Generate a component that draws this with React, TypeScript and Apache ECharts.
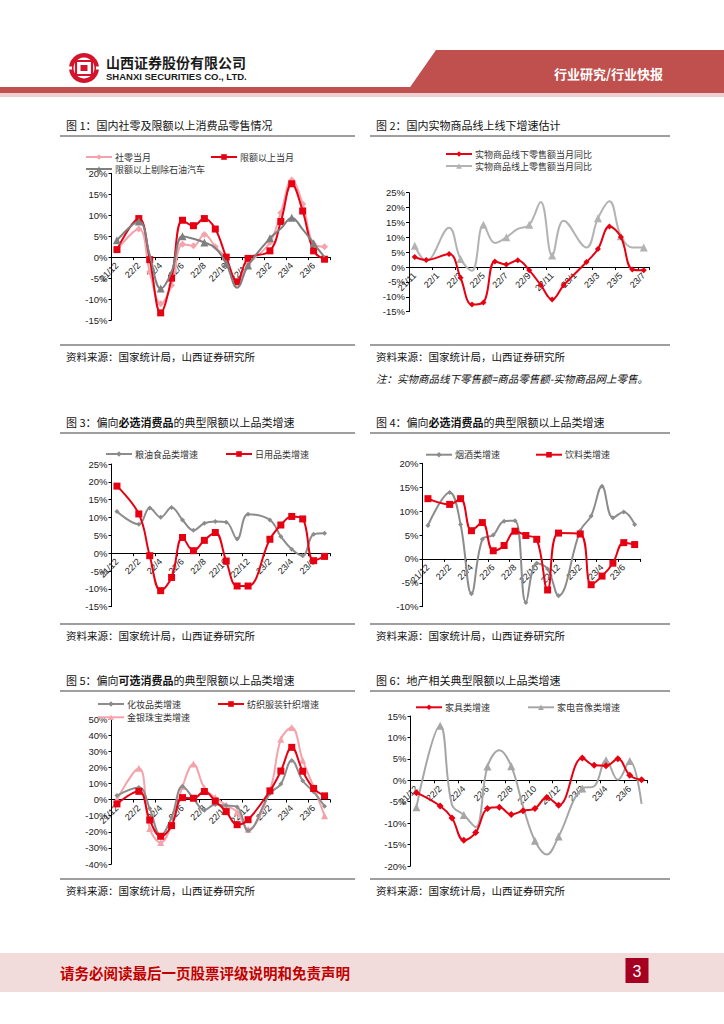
import React, { useEffect, useRef } from "react";
import * as echarts from "echarts";

// ---------- DATA ----------
const monthsA = ["21/12","22/1","22/2","22/3","22/4","22/5","22/6","22/7","22/8","22/9","22/10","22/11","22/12","23/1","23/2","23/3","23/4","23/5","23/6","23/7"];
const monthsB = ["21/11","21/12","22/1","22/2","22/3","22/4","22/5","22/6","22/7","22/8","22/9","22/10","22/11","22/12","23/1","23/2","23/3","23/4","23/5","23/6","23/7"];
const yTickFmt = "{value}%";

// Fig 1
const retailTotal = [1.7, null, 6.7, -3.5, -11.1, -6.7, 3.1, 2.7, 5.4, 2.5, -0.5, -5.9, -1.8, null, 3.5, 10.6, 18.4, 12.7, 3.1, 2.5];
const retailAbove = [1.8, null, 9.2, -0.6, -13.3, -5.0, 8.8, 7.5, 9.2, 6.7, 0.0, -5.9, -0.3, null, 1.5, 8.5, 17.5, 11.0, 1.5, -0.5];
const retailAboveEx = [4.0, null, 8.5, 0.5, -7.5, -3.5, 5.0, 4.4, 3.5, 2.2, -1.5, -7.3, -2.0, null, 4.5, 6.8, 9.4, 6.6, 3.3, 0.0];
// Fig 2
const offlineGoods = [3.4, 2.4, null, 4.4, -3.6, -12.6, -11.9, 1.9, 0.9, 2.3, -1.1, -6.0, -10.9, -6.1, null, 1.7, 6.1, 13.6, 10.1, -0.8, -1.1];
const onlineGoods = [7.2, 2.1, null, 13.2, 2.7, -1.2, 14.2, 8.1, 10.0, 12.8, 14.2, 21.9, 3.9, 15.6, null, 6.6, 16.4, 22.1, 10.4, 6.6, 6.6];
// Fig 3
const grainFood = [11.7, null, 8.1, 12.7, 10.1, 12.8, 9.3, 6.4, 8.4, 8.9, 8.7, 4.0, 10.9, null, 9.3, 4.7, 1.1, -0.7, 5.3, 5.6];
const dailyUse = [18.8, null, 11.0, -0.7, -10.5, -6.8, 4.4, 0.7, 3.6, 5.8, -2.2, -9.2, -9.2, null, 3.9, 7.9, 10.3, 9.6, -2.1, -0.9];
// Fig 4
const tobaccoLiquor = [7.0, null, 13.9, 7.2, -7.3, 4.1, 5.0, 7.9, 8.0, -9.1, -0.9, -2.1, -7.7, null, 5.9, 9.0, 15.2, 8.6, 9.8, 7.2];
const beverage = [12.6, null, 11.4, 12.6, 5.9, 7.6, 1.7, 2.8, 5.8, 4.9, 4.1, -6.5, 5.4, null, 5.2, -5.4, -3.6, -0.9, 3.4, 3.0];
// Fig 5
const cosmetics = [2.5, null, 7.5, -5.6, -22.3, -11.2, 8.3, 0.7, -6.6, -3.1, -3.7, -4.6, -19.3, null, 3.8, 9.6, 24.3, 11.7, 4.8, -4.1];
const textile = [-2.7, null, 5.1, -12.7, -22.8, -16.2, 1.2, 0.8, 5.0, -0.9, -7.5, -15.6, -12.5, null, 5.4, 17.7, 32.4, 17.6, 6.9, 2.3];
const jewelry = [0.0, null, 19.5, -17.9, -26.7, -15.5, 8.1, 22.1, 7.2, 1.2, -3.5, -7.7, -18.4, null, 5.9, 37.4, 44.7, 24.4, 7.8, -10.0];
// Fig 6
const furniture = [-2.9, null, -6.0, -8.8, -14.0, -12.2, -6.6, -6.3, -8.0, -7.1, -6.6, -4.0, -5.8, null, 5.2, 3.5, 3.4, 5.0, 1.2, 0.1];
const appliance = [-6.3, null, 12.7, -5.7, -8.1, -10.9, 3.2, 7.0, 3.3, -6.1, -14.1, -17.3, -13.1, null, -1.9, -1.4, 4.7, 0.1, 4.5, -5.5];

const yRanges = [
  [-15, 20, 5],
  [-15, 25, 5],
  [-15, 25, 5],
  [-10, 20, 5],
  [-40, 50, 10],
  [-20, 15, 5],
];

// ---------- STYLE / LAYOUT ----------
const RED = "#e60012";
const PINK = "#f5a3ab";
const GRAY_D = "#7f7f7f";
const GRAY_M = "#8c8c8c";
const GRAY_L = "#b3b3b3";
const NUM_FONT = "'Liberation Sans', Arial, sans-serif";
const CJK = "'Noto Sans CJK SC', 'Noto Sans', sans-serif";

const grids = [
  { left: 111.5, top: 173.3, width: 218.5, height: 146.7 },
  { left: 409, top: 192.7, width: 240.5, height: 119 },
  { left: 111.5, top: 464, width: 218.5, height: 142.7 },
  { left: 422.5, top: 463.3, width: 217.6, height: 143.4 },
  { left: 111.5, top: 719, width: 218.5, height: 145 },
  { left: 410.5, top: 716, width: 237, height: 150 },
];

function mkSeries(name: string, data: (number | null)[], gi: number, color: string, symbol: string, size: number, z: number) {
  return {
    type: "line",
    name,
    data,
    xAxisIndex: gi,
    yAxisIndex: gi,
    smooth: 0.4,
    connectNulls: true,
    symbol,
    symbolSize: size,
    showSymbol: true,
    lineStyle: { color, width: 2 },
    itemStyle: { color, borderWidth: 0 },
    z,
    emphasis: { disabled: true },
  };
}

function mkLegend(name: string, x: number, y: number) {
  return {
    data: [name],
    left: x,
    top: y - 4.5,
    padding: 0,
    itemWidth: 26,
    itemHeight: 7,
    itemGap: 0,
    selectedMode: false,
    textStyle: { fontSize: 9, lineHeight: 9, color: "#333", fontFamily: CJK, padding: [0, 0, 0, -2] },
  };
}

function txt(x: number, y: number, text: string, opts: any = {}) {
  return {
    type: "text",
    silent: true,
    style: {
      x,
      y,
      text,
      fill: opts.fill || "#111",
      fontSize: opts.fontSize || 10.5,
      fontFamily: opts.fontFamily || CJK,
      fontWeight: opts.fontWeight || "normal",
      fontStyle: opts.fontStyle || "normal",
      align: opts.align || "left",
      verticalAlign: "middle",
      rich: opts.rich,
    },
  };
}

function hline(x1: number, x2: number, y: number, color = "#7f7f7f", w = 1.5) {
  return { type: "line", silent: true, shape: { x1, y1: y, x2, y2: y }, style: { stroke: color, lineWidth: w } };
}

const titleRich = {
  a: { fontSize: 11, fontFamily: CJK, fill: "#111" },
  b: { fontSize: 11, fontFamily: CJK, fontWeight: "bold", fill: "#111" },
};

function buildOption() {
  const xAxis = grids.map((g, i) => {
    const [mn, mx] = yRanges[i];
    const zeroY = g.top + (g.height * mx) / (mx - mn);
    const off = zeroY - (g.top + g.height);
    return {
      type: "category",
      gridIndex: i,
      position: "bottom",
      offset: off,
      data: i === 1 ? monthsB : monthsA,
      boundaryGap: true,
      axisLine: { show: true, onZero: false, lineStyle: { color: "#000", width: 1 } },
      axisTick: { show: true, interval: 1, length: 3, lineStyle: { color: "#000" } },
      axisLabel: { interval: 1, rotate: 45, fontSize: 9, color: "#222", margin: 7, fontFamily: NUM_FONT },
      splitLine: { show: false },
    };
  });
  const yAxis = grids.map((_, i) => ({
    type: "value",
    gridIndex: i,
    min: yRanges[i][0],
    max: yRanges[i][1],
    interval: yRanges[i][2],
    axisLine: { show: true, onZero: false, lineStyle: { color: "#000", width: 1 } },
    axisTick: { show: true, length: 3, lineStyle: { color: "#000" } },
    axisLabel: { formatter: yTickFmt, fontSize: 9.5, color: "#222", margin: 4, fontFamily: NUM_FONT },
    splitLine: { show: false },
  }));

  const series = [
    mkSeries("社零当月", retailTotal, 0, PINK, "diamond", 7, 2),
    mkSeries("限额以上当月", retailAbove, 0, RED, "rect", 7, 3),
    mkSeries("限额以上剔除石油汽车", retailAboveEx, 0, GRAY_D, "triangle", 8, 4),
    mkSeries("实物商品线上零售额当月同比", onlineGoods, 1, GRAY_L, "triangle", 8, 2),
    mkSeries("实物商品线下零售额当月同比", offlineGoods, 1, RED, "diamond", 6, 3),
    mkSeries("粮油食品类增速", grainFood, 2, GRAY_M, "diamond", 5, 2),
    mkSeries("日用品类增速", dailyUse, 2, RED, "rect", 7, 3),
    mkSeries("烟酒类增速", tobaccoLiquor, 3, GRAY_M, "diamond", 5, 2),
    mkSeries("饮料类增速", beverage, 3, RED, "rect", 7, 3),
    mkSeries("化妆品类增速", cosmetics, 4, GRAY_M, "diamond", 5, 2),
    mkSeries("纺织服装针织增速", textile, 4, RED, "rect", 7, 3),
    mkSeries("金银珠宝类增速", jewelry, 4, PINK, "triangle", 7, 1),
    mkSeries("家具类增速", furniture, 5, RED, "diamond", 7, 3),
    mkSeries("家电音像类增速", appliance, 5, "#a6a6a6", "triangle", 8, 2),
  ];

  const legend = [
    mkLegend("社零当月", 85, 157),
    mkLegend("限额以上当月", 210, 157),
    mkLegend("限额以上剔除石油汽车", 85, 169),
    mkLegend("实物商品线下零售额当月同比", 445, 154),
    mkLegend("实物商品线上零售额当月同比", 445, 166),
    mkLegend("粮油食品类增速", 105, 454),
    mkLegend("日用品类增速", 225, 454),
    mkLegend("烟酒类增速", 425, 454.7),
    mkLegend("饮料类增速", 535, 454.7),
    mkLegend("化妆品类增速", 97, 704),
    mkLegend("纺织服装针织增速", 217, 704),
    mkLegend("金银珠宝类增速", 97, 717.3),
    mkLegend("家具类增速", 415, 707.3),
    mkLegend("家电音像类增速", 527, 707.3),
  ];

  const src = "资料来源：国家统计局，山西证券研究所";
  const graphic = [
    // header band
    { type: "polygon", silent: true, shape: { points: [[436, 50], [724, 50], [724, 93], [406, 93]] }, style: { fill: "#c0504d" } },
    { type: "rect", silent: true, shape: { x: 0, y: 87, width: 724, height: 6 }, style: { fill: "#c0504d" } },
    { type: "rect", silent: true, shape: { x: 0, y: 93, width: 724, height: 4 }, style: { fill: "#ecd0cf" } },
    txt(554, 73, "行业研究/行业快报", { fill: "#fff", fontSize: 13, fontWeight: "bold" }),
    // logo
    { type: "circle", silent: true, shape: { cx: 84, cy: 68, r: 15 }, style: { fill: "#d2142c" } },
    { type: "circle", silent: true, shape: { cx: 84, cy: 68, r: 10.5 }, style: { fill: "#fff" } },
    { type: "rect", silent: true, shape: { x: 76, y: 61, width: 16, height: 14 }, style: { fill: "none", stroke: "#d2142c", lineWidth: 2.2 } },
    { type: "rect", silent: true, shape: { x: 80.5, y: 65, width: 7, height: 6 }, style: { fill: "#d2142c" } },
    { type: "rect", silent: true, shape: { x: 68, y: 66.5, width: 4, height: 3 }, style: { fill: "#fff" } },
    { type: "rect", silent: true, shape: { x: 96, y: 66.5, width: 4, height: 3 }, style: { fill: "#fff" } },
    txt(106, 62, "山西证券股份有限公司", { fontSize: 14, fontWeight: "bold", fill: "#1a1a1a" }),
    txt(106, 76, "SHANXI SECURITIES CO., LTD.", { fontSize: 9.5, fontWeight: "bold", fill: "#1a1a1a", fontFamily: NUM_FONT }),

    // titles
    txt(66, 125, "图 1：国内社零及限额以上消费品零售情况", { fontSize: 11 }),
    txt(376, 125, "图 2：国内实物商品线上线下增速估计", { fontSize: 11 }),
    hline(60, 355, 136),
    hline(370, 670, 136),
    hline(60, 355, 345),
    hline(370, 670, 345),
    txt(66, 356, src),
    txt(376, 356, src),
    txt(376, 378, "注：实物商品线下零售额=商品零售额-实物商品网上零售。", { fontStyle: "italic" }),

    txt(66, 422, "{a|图 3：偏向}{b|必选消费品}{a|的典型限额以上品类增速}", { rich: titleRich }),
    txt(376, 422, "{a|图 4：偏向}{b|必选消费品}{a|的典型限额以上品类增速}", { rich: titleRich }),
    hline(60, 355, 433),
    hline(370, 670, 433),
    hline(60, 355, 624),
    hline(370, 670, 624),
    txt(66, 635, src),
    txt(376, 635, src),

    txt(66, 680, "{a|图 5：偏向}{b|可选消费品}{a|的典型限额以上品类增速}", { rich: titleRich }),
    txt(376, 680, "图 6：地产相关典型限额以上品类增速", { fontSize: 11 }),
    hline(60, 355, 691),
    hline(370, 670, 691),
    hline(60, 355, 879),
    hline(370, 670, 879),
    txt(66, 890, src),
    txt(376, 890, src),

    // footer
    { type: "rect", silent: true, shape: { x: 0, y: 953, width: 724, height: 39 }, style: { fill: "#f2dcdb" } },
    txt(60, 972, "请务必阅读最后一页股票评级说明和免责声明", { fontSize: 14.5, fontWeight: "bold", fill: "#c00000" }),
    { type: "rect", silent: true, shape: { x: 625.5, y: 958, width: 23, height: 25 }, style: { fill: "#a50021" } },
    txt(637, 971, "3", { fontSize: 16, fill: "#fff", align: "center", fontFamily: NUM_FONT }),
  ];

  return {
    animation: false,
    backgroundColor: "#fff",
    grid: grids.map((g) => ({ ...g, containLabel: false })),
    xAxis,
    yAxis,
    legend,
    series,
    graphic: { elements: graphic },
  };
}

export default function App() {
  const ref = useRef<HTMLDivElement>(null);
  useEffect(() => {
    if (!ref.current) return;
    const chart = echarts.init(ref.current, null, { renderer: "svg" });
    chart.setOption(buildOption() as any);
    return () => chart.dispose();
  }, []);
  return (
    <div style={{ position: "absolute", left: 0, top: 0, width: 724, height: 1024, background: "#fff" }}>
      <div ref={ref} style={{ width: 724, height: 1024 }} />
    </div>
  );
}
